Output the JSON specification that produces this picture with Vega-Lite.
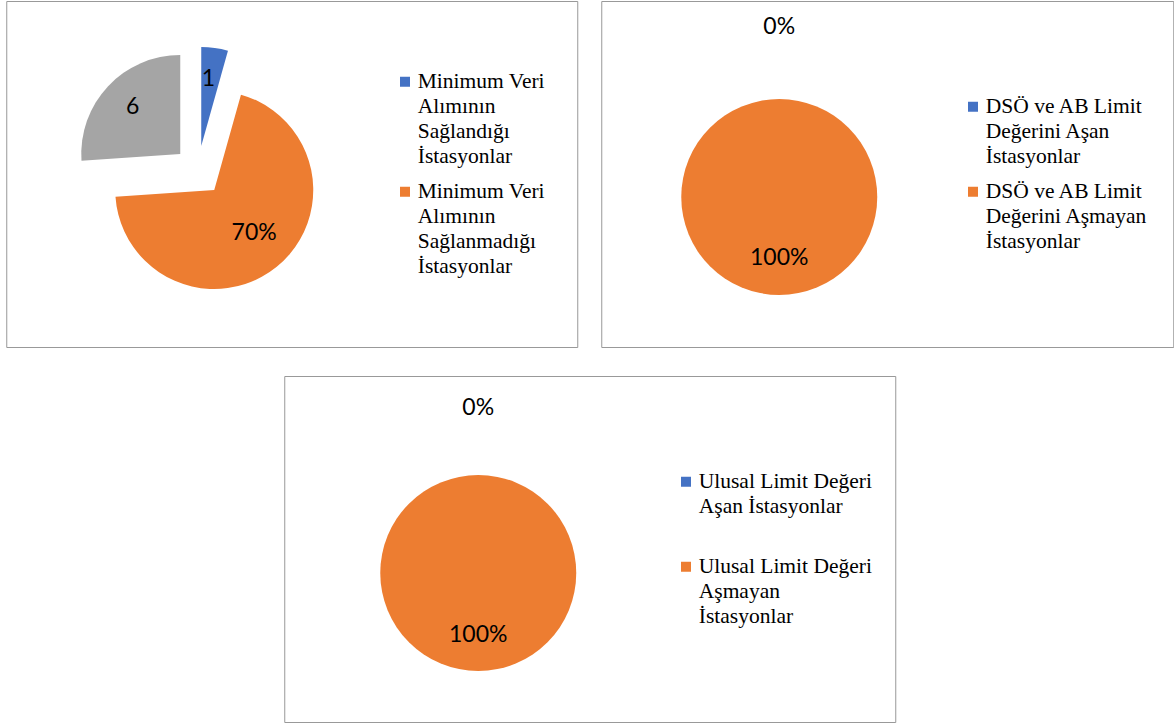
{
  "$schema": "https://vega.github.io/schema/vega-lite/v6.json",
  "padding": {"left": 5, "top": 0, "right": 0, "bottom": 0},
  "background": "white",
  "config": {
    "view": {"stroke": "#999999", "strokeWidth": 1},
    "style": {"guide-label": {"lineHeight": 25}},
    "legend": {
      "orient": "none",
      "padding": 0,
      "symbolType": "square",
      "symbolSize": 100,
      "symbolStrokeWidth": 0,
      "labelFont": "Liberation Serif",
      "labelFontSize": 21.5,
      "labelColor": "black",
      "labelOffset": 2,
      "labelLimit": 400,
      "labelBaseline": "middle",
      "title": null
    },
    "text": {"font": "Lato", "fontSize": 23, "color": "black"}
  },
  "data": {
    "values": [
      {"panel": "p1", "kategori": "Minimum Veri Alımının Sağlandığı İstasyonlar", "deger": 1, "etiket": "1", "sira": 1},
      {"panel": "p1", "kategori": "Minimum Veri Alımının Sağlanmadığı İstasyonlar", "deger": 16, "etiket": "70%", "sira": 2},
      {"panel": "p1", "kategori": "Diğer İstasyonlar", "deger": 6, "etiket": "6", "sira": 3},
      {"panel": "p2", "kategori": "DSÖ ve AB Limit Değerini Aşan İstasyonlar", "deger": 0, "etiket": "0%", "sira": 1},
      {"panel": "p2", "kategori": "DSÖ ve AB Limit Değerini Aşmayan İstasyonlar", "deger": 100, "etiket": "100%", "sira": 2},
      {"panel": "p3", "kategori": "Ulusal Limit Değeri Aşan İstasyonlar", "deger": 0, "etiket": "0%", "sira": 1},
      {"panel": "p3", "kategori": "Ulusal Limit Değeri Aşmayan İstasyonlar", "deger": 100, "etiket": "100%", "sira": 2}
    ]
  },
  "resolve": {"scale": {"color": "independent"}, "legend": {"color": "independent"}},
  "spacing": 27,
  "center": true,
  "vconcat": [
    {
      "resolve": {"scale": {"color": "independent"}, "legend": {"color": "independent"}},
      "spacing": 22,
      "hconcat": [
        {
          "width": 571,
          "height": 346,
          "transform": [{"filter": "datum.panel == 'p1'"}],
          "layer": [
            {
              "transform": [
                {"stack": "deger", "groupby": [], "sort": [{"field": "sira"}], "as": ["t0", "t1"]},
                {"filter": "datum.sira == 1"}
              ],
              "mark": {"type": "arc", "outerRadius": 99},
              "encoding": {
                "x": {"value": 195}, "y": {"value": 145},
                "theta": {"field": "t0", "type": "quantitative", "scale": {"domain": [0, 23]}},
                "theta2": {"field": "t1"},
                "color": {
                  "field": "kategori",
                  "type": "nominal",
                  "scale": {
                    "domain": ["Minimum Veri Alımının Sağlandığı İstasyonlar", "Minimum Veri Alımının Sağlanmadığı İstasyonlar", "Diğer İstasyonlar"],
                    "range": ["#4472C4", "#ED7D31", "#A5A5A5"]
                  },
                  "legend": {
                    "values": ["Minimum Veri Alımının Sağlandığı İstasyonlar", "Minimum Veri Alımının Sağlanmadığı İstasyonlar"],
                    "legendX": 388,
                    "legendY": 70,
                    "rowPadding": 12,
                    "labelExpr": "datum.label == 'Minimum Veri Alımının Sağlandığı İstasyonlar' ? ['Minimum Veri', 'Alımının', 'Sağlandığı', 'İstasyonlar'] : ['Minimum Veri', 'Alımının', 'Sağlanmadığı', 'İstasyonlar']"
                  }
                }
              }
            },
            {
              "transform": [
                {"stack": "deger", "groupby": [], "sort": [{"field": "sira"}], "as": ["t0", "t1"]},
                {"filter": "datum.sira == 2"}
              ],
              "mark": {"type": "arc", "outerRadius": 99},
              "encoding": {
                "x": {"value": 208}, "y": {"value": 189},
                "theta": {"field": "t0", "type": "quantitative", "scale": {"domain": [0, 23]}},
                "theta2": {"field": "t1"},
                "color": {"field": "kategori", "type": "nominal"}
              }
            },
            {
              "transform": [
                {"stack": "deger", "groupby": [], "sort": [{"field": "sira"}], "as": ["t0", "t1"]},
                {"filter": "datum.sira == 3"}
              ],
              "mark": {"type": "arc", "outerRadius": 99},
              "encoding": {
                "x": {"value": 174}, "y": {"value": 153},
                "theta": {"field": "t0", "type": "quantitative", "scale": {"domain": [0, 23]}},
                "theta2": {"field": "t1"},
                "color": {"field": "kategori", "type": "nominal"}
              }
            },
            {
              "mark": {"type": "text", "radius": 68},
              "encoding": {
                "x": {"value": 193}, "y": {"value": 145},
                "theta": {"field": "deger", "type": "quantitative", "stack": true, "scale": {"domain": [0, 23]}},
                "order": {"field": "sira"},
                "detail": {"field": "kategori"},
                "text": {"condition": {"test": "datum.sira == 1", "field": "etiket"}, "value": ""},
                "color": {"value": "black"}
              }
            },
            {
              "mark": {"type": "text", "radius": 60},
              "encoding": {
                "x": {"value": 210}, "y": {"value": 185},
                "theta": {"field": "deger", "type": "quantitative", "stack": true, "scale": {"domain": [0, 23]}},
                "order": {"field": "sira"},
                "detail": {"field": "kategori"},
                "text": {"condition": {"test": "datum.sira == 2", "field": "etiket"}, "value": ""},
                "color": {"value": "black"}
              }
            },
            {
              "mark": {"type": "text", "radius": 68},
              "encoding": {
                "x": {"value": 176}, "y": {"value": 152},
                "theta": {"field": "deger", "type": "quantitative", "stack": true, "scale": {"domain": [0, 23]}},
                "order": {"field": "sira"},
                "detail": {"field": "kategori"},
                "text": {"condition": {"test": "datum.sira == 3", "field": "etiket"}, "value": ""},
                "color": {"value": "black"}
              }
            }
          ]
        },
        {
          "width": 572,
          "height": 346,
          "transform": [{"filter": "datum.panel == 'p2'"}],
          "layer": [
            {
              "mark": {"type": "arc", "outerRadius": 98},
              "encoding": {
                "x": {"value": 178}, "y": {"value": 196},
                "theta": {"field": "deger", "type": "quantitative", "stack": true, "scale": {"domain": [0, 100]}},
                "order": {"field": "sira"},
                "color": {
                  "field": "kategori",
                  "type": "nominal",
                  "scale": {
                    "domain": ["DSÖ ve AB Limit Değerini Aşan İstasyonlar", "DSÖ ve AB Limit Değerini Aşmayan İstasyonlar"],
                    "range": ["#4472C4", "#ED7D31"]
                  },
                  "legend": {
                    "legendX": 361,
                    "legendY": 95,
                    "rowPadding": 12,
                    "labelExpr": "datum.label == 'DSÖ ve AB Limit Değerini Aşan İstasyonlar' ? ['DSÖ ve AB Limit', 'Değerini Aşan', 'İstasyonlar'] : ['DSÖ ve AB Limit', 'Değerini Aşmayan', 'İstasyonlar']"
                  }
                }
              }
            },
            {
              "transform": [{"filter": "datum.sira == 1"}],
              "mark": {"type": "text", "radius": 170},
              "encoding": {
                "x": {"value": 178}, "y": {"value": 196},
                "theta": {"field": "deger", "type": "quantitative", "stack": true, "scale": {"domain": [0, 100]}},
                "text": {"field": "etiket"},
                "color": {"value": "black"}
              }
            },
            {
              "transform": [{"filter": "datum.sira == 2"}],
              "mark": {"type": "text", "radius": 61},
              "encoding": {
                "x": {"value": 178}, "y": {"value": 196},
                "theta": {"field": "deger", "type": "quantitative", "stack": true, "scale": {"domain": [0, 100]}},
                "text": {"field": "etiket"},
                "color": {"value": "black"}
              }
            }
          ]
        }
      ]
    },
    {
      "width": 611,
      "height": 346,
      "transform": [{"filter": "datum.panel == 'p3'"}],
      "layer": [
        {
          "mark": {"type": "arc", "outerRadius": 98},
          "encoding": {
            "x": {"value": 194}, "y": {"value": 197},
            "theta": {"field": "deger", "type": "quantitative", "stack": true, "scale": {"domain": [0, 100]}},
            "order": {"field": "sira"},
            "color": {
              "field": "kategori",
              "type": "nominal",
              "scale": {
                "domain": ["Ulusal Limit Değeri Aşan İstasyonlar", "Ulusal Limit Değeri Aşmayan İstasyonlar"],
                "range": ["#4472C4", "#ED7D31"]
              },
              "legend": {
                "legendX": 391,
                "legendY": 95,
                "rowPadding": 37,
                "labelExpr": "datum.label == 'Ulusal Limit Değeri Aşan İstasyonlar' ? ['Ulusal Limit Değeri', 'Aşan İstasyonlar'] : ['Ulusal Limit Değeri', 'Aşmayan', 'İstasyonlar']"
              }
            }
          }
        },
        {
          "transform": [{"filter": "datum.sira == 1"}],
          "mark": {"type": "text", "radius": 165},
          "encoding": {
            "x": {"value": 194}, "y": {"value": 197},
            "theta": {"field": "deger", "type": "quantitative", "stack": true, "scale": {"domain": [0, 100]}},
            "text": {"field": "etiket"},
            "color": {"value": "black"}
          }
        },
        {
          "transform": [{"filter": "datum.sira == 2"}],
          "mark": {"type": "text", "radius": 62},
          "encoding": {
            "x": {"value": 194}, "y": {"value": 197},
            "theta": {"field": "deger", "type": "quantitative", "stack": true, "scale": {"domain": [0, 100]}},
            "text": {"field": "etiket"},
            "color": {"value": "black"}
          }
        }
      ]
    }
  ]
}
